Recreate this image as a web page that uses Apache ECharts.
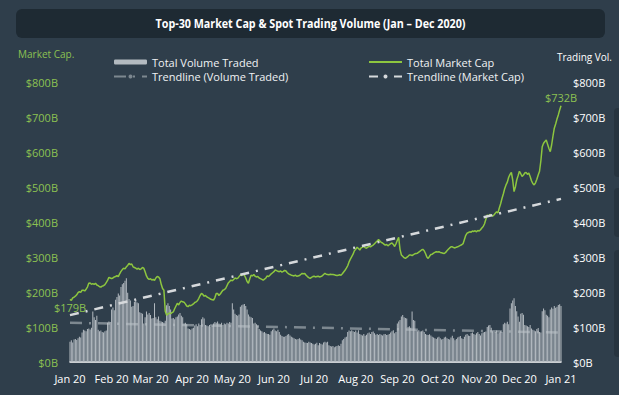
<!DOCTYPE html>
<html>
<head>
<meta charset="utf-8">
<script src="https://cdn.jsdelivr.net/npm/echarts@6/dist/echarts.min.js"></script>
<style>
html,body{margin:0;padding:0;background:#2f3e4b;}
#chart{width:619px;height:395px;}
</style>
</head>
<body>
<div id="chart"></div>
<script>
// ---------- DATA ----------
const titleText = 'Top-30 Market Cap & Spot Trading Volume (Jan \u2013 Dec 2020)';
const startDate = [2020, 0, 1];
const dayCount = 367; // Jan 1 2020 .. Jan 1 2021
const monthLabels = ['Jan 20','Feb 20','Mar 20','Apr 20','May 20','Jun 20','Jul 20','Aug 20','Sep 20','Oct 20','Nov 20','Dec 20','Jan 21'];
const yTickLabels = ['$0B','$100B','$200B','$300B','$400B','$500B','$600B','$700B','$800B'];

// Total market cap ($B), daily
const marketCap = [
179,176,183,185,188,192,198,201,199,205,
205,203,208,214,225,226,222,224,222,225,
220,218,215,214,217,218,221,227,233,242,
240,238,240,243,244,247,244,252,259,264,
268,266,272,276,282,278,280,272,270,268,
265,268,264,266,270,268,258,246,239,236,
238,234,236,233,240,244,243,238,222,210,
205,145,134,137,140,138,141,143,152,160,
168,163,170,174,172,171,166,160,158,162,
161,163,166,170,172,175,182,190,196,193,
188,190,186,184,182,179,178,177,184,196,
196,190,194,200,205,207,210,218,226,230,
234,232,236,240,238,239,244,249,247,253,
248,240,230,225,238,248,246,250,245,243,
244,240,238,236,234,237,240,246,244,248,
252,255,258,263,261,259,258,260,257,259,
262,260,255,252,250,248,247,246,248,245,
246,247,250,253,252,253,248,244,241,239,
242,244,245,243,244,245,243,244,246,250,
253,251,250,249,251,250,250,249,248,247,
248,249,248,252,257,262,268,275,286,294,
301,308,318,322,328,324,320,326,328,330,
327,325,328,331,329,332,334,338,342,346,
350,346,342,340,337,334,336,332,335,338,
340,336,330,338,348,356,322,306,302,298,
296,299,302,306,306,304,307,309,310,311,
314,317,320,322,318,310,300,296,302,307,
308,311,313,315,314,315,313,312,311,310,
313,318,322,326,329,329,327,326,328,329,
331,333,335,338,350,362,368,370,372,371,
374,373,375,372,376,374,378,383,387,395,
408,420,416,422,419,417,420,425,429,426,
440,452,467,480,495,506,514,528,536,542,
520,487,500,520,532,545,538,530,534,540,
542,536,540,530,518,510,506,512,522,534,
545,575,615,625,630,634,622,610,601,620,
645,668,680,694,706,720,732
];

// Total spot volume traded ($B), daily
const volume = [
58,62,56,64,66,63,68,72,70,84,
92,90,88,94,96,93,98,144,128,120,
132,92,88,90,86,84,88,90,112,116,
114,150,156,148,178,186,196,190,214,222,
226,232,239,198,180,176,158,160,172,176,
170,168,142,140,138,110,128,144,136,140,
134,124,126,168,128,122,130,118,116,114,
112,118,162,168,160,150,124,126,122,128,
130,136,140,132,128,110,112,108,96,94,
92,96,98,104,108,102,110,106,122,128,
124,106,104,102,106,100,104,110,114,112,
116,110,108,112,106,110,108,112,110,114,
112,168,150,138,134,132,136,158,162,164,
166,160,150,136,130,128,126,110,112,108,
104,94,90,88,84,86,82,80,80,78,
88,92,96,90,88,92,86,78,74,72,
72,74,78,80,76,72,70,68,66,64,
66,68,64,62,58,56,55,54,58,56,
54,52,50,52,55,48,54,52,50,56,
58,56,58,48,46,44,46,42,44,46,
48,46,52,62,66,70,72,86,90,88,
91,88,86,90,84,91,80,78,76,80,
75,78,82,84,80,86,87,82,78,80,
77,80,78,76,79,80,77,78,80,84,
88,91,82,86,110,116,120,130,134,128,
126,124,100,102,98,144,120,118,90,88,
91,87,88,90,86,80,78,77,79,76,
72,70,68,66,70,72,68,64,66,70,
72,68,66,64,70,75,68,62,66,70,
72,74,68,66,72,78,80,76,74,82,
84,80,78,82,86,80,76,82,84,86,
87,100,104,106,98,88,84,86,90,82,
84,88,86,108,112,110,115,108,153,168,
176,182,160,145,130,115,138,140,135,106,
104,102,100,106,96,92,90,88,94,97,
86,84,145,153,148,135,132,128,150,156,
152,160,155,158,163,165,160
];

// Trendline endpoints ($B) at first and last day
const capTrend = [134, 466];
const volTrend = [112, 84];

// ---------- BUILD ----------
const categories = [];
for (let i = 0; i < dayCount; i++) {
  const d = new Date(Date.UTC(startDate[0], startDate[1], startDate[2] + i));
  categories.push(d.toISOString().slice(0, 10));
}
const last = dayCount - 1;
const GREEN = '#8dc63f';
const GREEN_TXT = '#8cc152';
const FONT = 'Open Sans';

const capData = marketCap.map((v, i) => {
  if (i === 0) return { value: v, label: { show: true, position: 'bottom', distance: 3, formatter: '$' + v + 'B', color: GREEN_TXT, fontSize: 11, fontFamily: FONT } };
  if (i === last) return { value: v, label: { show: true, position: 'top', distance: 3, formatter: '$' + v + 'B', color: GREEN_TXT, fontSize: 11, fontFamily: FONT } };
  return v;
});

// title width fit (condensed look)
const cv = document.createElement('canvas').getContext('2d');
cv.font = 'bold 12px "Open Sans"';
const tw = cv.measureText(titleText).width;
const titleScale = Math.min(1, 310 / tw);

const legendText = { color: '#f0f2f4', fontSize: 11, fontFamily: FONT, lineHeight: 12 };

const chart = echarts.init(document.getElementById('chart'), null, { renderer: 'svg' });
chart.setOption({
  backgroundColor: '#2f3e4b',
  animation: false,
  textStyle: { fontFamily: FONT },
  graphic: [
    { type: 'rect', left: 16, top: 9, shape: { width: 589, height: 29, r: 6 }, style: { fill: '#1e2a33' } },
    { type: 'text', x: 310.5, y: 23.5, scaleX: titleScale, originX: 0, style: { text: titleText, fill: '#ffffff', font: 'bold 12px "Open Sans"', textAlign: 'center', textVerticalAlign: 'middle' } },
    { type: 'text', x: 18, y: 54, style: { text: 'Market Cap.', fill: GREEN_TXT, font: '10px "Open Sans"', textVerticalAlign: 'middle' } },
    { type: 'text', x: 612, y: 57, style: { text: 'Trading Vol.', fill: '#ffffff', font: '10px "Open Sans"', textAlign: 'right', textVerticalAlign: 'middle' } },
    { type: 'rect', left: 614, top: 108, shape: { width: 12, height: 69, r: 4 }, style: { fill: '#27343f' } },
    { type: 'rect', left: 614, top: 188, shape: { width: 12, height: 49, r: 4 }, style: { fill: '#27343f' } },
    { type: 'rect', left: 614, top: 250, shape: { width: 12, height: 107, r: 4 }, style: { fill: '#27343f' } }
  ],
  legend: [
    {
      left: 108, top: 51, orient: 'vertical', itemWidth: 33, itemHeight: 5, itemGap: 2.5,
      textStyle: legendText,
      data: ['Total Volume Traded', 'Trendline (Volume Traded)']
    },
    {
      left: 363, top: 51, orient: 'vertical', itemWidth: 33, itemHeight: 5, itemGap: 2.5,
      textStyle: legendText,
      data: [{ name: 'Total Market Cap', itemStyle: { opacity: 0 } }, 'Trendline (Market Cap)']
    }
  ],
  grid: { left: 70, right: 58, top: 82, bottom: 33, containLabel: false },
  xAxis: {
    type: 'category', data: categories, boundaryGap: false,
    axisLine: { lineStyle: { color: '#ffffff', width: 1.5 } },
    axisTick: { show: false },
    splitLine: { show: false },
    axisLabel: {
      color: '#ffffff', fontSize: 11, fontFamily: FONT, margin: 11,
      interval: (idx, val) => val.slice(8, 10) === '01',
      formatter: (val) => monthLabels[(parseInt(val.slice(0, 4)) - 2020) * 12 + parseInt(val.slice(5, 7)) - 1]
    }
  },
  yAxis: [
    {
      type: 'value', position: 'left', min: 0, max: 800, interval: 100,
      axisLine: { show: false }, axisTick: { show: false }, splitLine: { show: false },
      axisLabel: { color: GREEN_TXT, fontSize: 11, fontFamily: FONT, margin: 12, formatter: (v) => yTickLabels[v / 100] }
    },
    {
      type: 'value', position: 'right', min: 0, max: 800, interval: 100,
      axisLine: { show: false }, axisTick: { show: false }, splitLine: { show: false },
      axisLabel: { color: '#ffffff', fontSize: 11, fontFamily: FONT, margin: 12, formatter: (v) => yTickLabels[v / 100] }
    }
  ],
  series: [
    {
      name: 'Total Volume Traded', type: 'bar', yAxisIndex: 1, data: volume,
      barCategoryGap: '25%',
      itemStyle: { color: '#b3bac0' }
    },
    {
      name: 'Trendline (Volume Traded)', type: 'line', yAxisIndex: 1,
      data: [[0, volTrend[0]], [last, volTrend[1]]],
      symbol: 'none',
      lineStyle: { color: 'rgba(190,196,202,0.55)', width: 2.5, type: [12, 7, 2, 7] },
      itemStyle: { color: 'rgba(190,196,202,0.55)' }
    },
    {
      name: 'Total Market Cap', type: 'line', yAxisIndex: 0, data: capData,
      symbol: 'circle', symbolSize: 0, showSymbol: true, showAllSymbol: true,
      lineStyle: { color: GREEN, width: 1.5 },
      itemStyle: { color: GREEN }
    },
    {
      name: 'Trendline (Market Cap)', type: 'line', yAxisIndex: 0,
      data: [[0, capTrend[0]], [last, capTrend[1]]],
      symbol: 'none',
      lineStyle: { color: '#d6d9dc', width: 2.5, type: [9, 7, 2, 7] },
      itemStyle: { color: '#d6d9dc' }
    }
  ]
});
</script>
</body>
</html>
